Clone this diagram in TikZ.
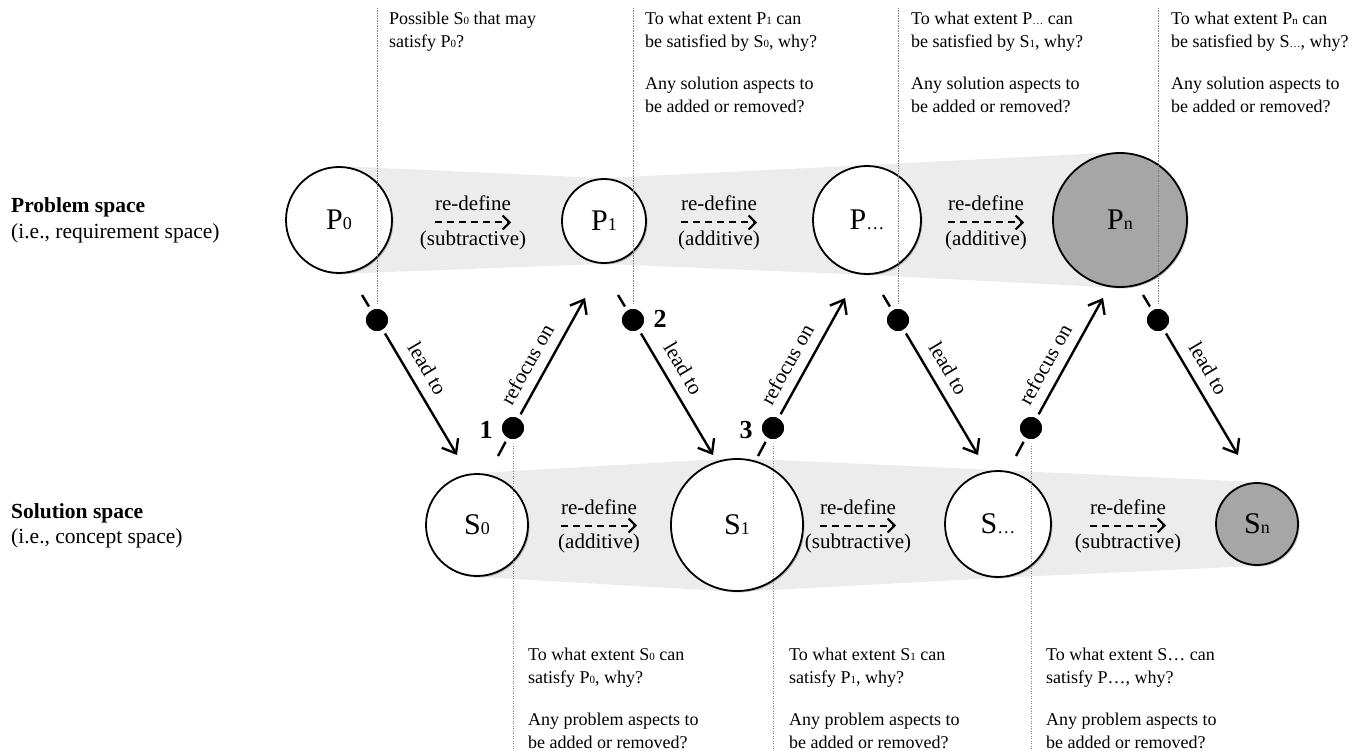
\documentclass[tikz,border=0pt]{standalone}
\usepackage{fontspec}
\setmainfont{Liberation Serif}
\usetikzlibrary{arrows.meta,calc,shadows}
\pgfdeclarelayer{background}
\pgfdeclarelayer{foreground}
\pgfsetlayers{background,main,foreground}

\definecolor{bandgray}{RGB}{236,236,236}
\definecolor{endgray}{RGB}{166,166,166}
\definecolor{guidegray}{RGB}{125,125,125}

\newcommand\fs[2]{\fontsize{#1}{#2}\selectfont}
% small index letters, in running text and inside the circles
\newcommand\ssub[1]{{\fontsize{11}{11}\selectfont #1}}
\newcommand\csub[1]{{\fontsize{18}{18}\selectfont #1}}

\tikzset{
  stateball/.style={circle, draw, line width=1.8pt, fill=white, inner sep=0pt,
    font=\fs{30}{32},
    drop shadow={shadow xshift=1.5pt, shadow yshift=-1.5pt, opacity=0.22, fill=black}},
  endball/.style={stateball, fill=endgray},
  knot/.style={circle, fill=black, draw=white, line width=4.5pt,
    minimum size=27pt, inner sep=0pt},
  guide/.style={draw=guidegray, line width=0.7pt, dash pattern=on 1.2pt off 1.3pt},
  flow/.style={line width=2.4pt, -{Straight Barb[length=12pt,width=19pt]}},
  stub/.style={line width=2.4pt},
  redef/.style={line width=2pt, dash pattern=on 7pt off 5pt,
    -{Straight Barb[length=7pt,width=14pt]}},
  note/.style={anchor=north west, align=left, inner sep=0pt, font=\fs{18}{22.5}},
  tag/.style={font=\fs{21}{24}, inner sep=0pt},
  steplabel/.style={font=\fs{21}{24}, sloped, anchor=south, inner sep=10pt},
  num/.style={font=\fs{26}{28}\bfseries, inner sep=0pt},
  head/.style={anchor=base west, inner sep=0pt, font=\fs{21.5}{26}\bfseries},
  subhead/.style={anchor=base west, inner sep=0pt, font=\fs{21.5}{26}},
}

\begin{document}
\begin{tikzpicture}[x=1pt, y=-1pt]
\useasboundingbox (0,0) rectangle (1367,751);

% side headings
\node[head] (ph) at (11,213) {Problem space};
\node[subhead] (phx) at (11,239) {(i.e., requirement space)};
\node[head] (sh) at (11,518) {Solution space};
\node[subhead] (shx) at (11,543) {(i.e., concept space)};

% problem states
\node[stateball, minimum size=106pt] (P0) at (339,220) {P\csub{0}};
\node[stateball, minimum size=84pt]  (P1) at (604,221) {P\csub{1}};
\node[stateball, minimum size=108pt] (Pd) at (867,220) {P\csub{…}};
\node[endball,   minimum size=134pt] (Pn) at (1120,220) {P\csub{n}};

% solution states
\node[stateball, minimum size=102pt] (S0) at (477,525) {S\csub{0}};
\node[stateball, minimum size=132pt] (S1) at (737,525) {S\csub{1}};
\node[stateball, minimum size=106pt] (Sd) at (998,524) {S\csub{…}};
\node[endball,   minimum size=82pt]  (Sn) at (1257,524) {S\csub{n}};

% grey corridors joining the states of each space
\begin{pgfonlayer}{background}
  \fill[bandgray] (P0.north) -- (P1.north) -- (Pd.north) -- (Pn.north)
     -- (Pn.south) -- (Pd.south) -- (P1.south) -- (P0.south) -- cycle;
  \fill[bandgray] (S0.north) -- (S1.north) -- (Sd.north) -- (Sn.north)
     -- (Sn.south) -- (Sd.south) -- (S1.south) -- (S0.south) -- cycle;
\end{pgfonlayer}

% re-define steps between neighbouring states
\foreach \n/\cx/\cy/\kind in {1/473/211/subtractive, 2/719/211/additive,
    3/986/211/additive, 4/599/514/additive, 5/858/514/subtractive,
    6/1128/514/subtractive}{
  \node[tag, anchor=base] (rd\n) at (\cx,\cy) {re-define};
  \node[tag, anchor=base] (rk\n) at (\cx,\cy+34.5) {(\kind)};
  \coordinate (rs\n) at (\cx-38,\cy+11.5);
  \coordinate (re\n) at (\cx+38,\cy+11.5);
  \draw[redef] (rs\n) -- (re\n);
}

% junction dots
\begin{pgfonlayer}{foreground}
  \node[knot] (u1) at (377,320) {};
  \node[knot] (u2) at (633,320) {};
  \node[knot] (u3) at (898,320) {};
  \node[knot] (u4) at (1158,320) {};
  \node[knot] (d1) at (513,428) {};
  \node[knot] (d2) at (773,428) {};
  \node[knot] (d3) at (1031,428) {};
\end{pgfonlayer}

% dotted guides from the questions to the dots
\foreach \i/\gx in {1/377, 2/633, 3/898, 4/1158}{
  \coordinate (gu\i) at (\gx,8);
  \draw[guide] (gu\i) -- (u\i.center);
}
\foreach \i/\gx in {1/513, 2/773, 3/1031}{
  \coordinate (gd\i) at (\gx,751);
  \draw[guide] (d\i.center) -- (gd\i);
}

% lead to: problem -> solution
\foreach \i in {1,2,3,4}{
  \coordinate (la\i) at ($(u\i)+(-15,-25)$);
  \coordinate (lb\i) at ($(u\i)+(80,135)$);
  \draw[stub] (la\i) -- (u\i.center);
  \draw[flow] (u\i.center) -- (lb\i)
    node[steplabel, pos=0.43] (lt\i) {lead to};
}

% refocus on: solution -> problem
\foreach \i in {1,2,3}{
  \coordinate (fa\i) at ($(d\i)+(-15,28)$);
  \coordinate (fb\i) at ($(d\i)+(72,-130)$);
  \draw[stub] (fa\i) -- (d\i.center);
  \draw[flow] (d\i.center) -- (fb\i)
    node[steplabel, pos=0.42] (ft\i) {refocus on};
}

% step numbers
\node[num] (n1) at ($(d1)+(-27,2)$) {1};
\node[num] (n2) at ($(u2)+(27,-1)$) {2};
\node[num] (n3) at ($(d2)+(-27,2)$) {3};

% questions above the problem space
\node[note] (q1) at (389,12) {Possible S\ssub{0} that may\\satisfy P\ssub{0}?};
\node[note] (q2) at (645,12) {To what extent P\ssub{1} can\\be satisfied by S\ssub{0}, why?\\[20pt]Any solution aspects to\\be added or removed?};
\node[note] (q3) at (911,12) {To what extent P\ssub{…} can\\be satisfied by S\ssub{1}, why?\\[20pt]Any solution aspects to\\be added or removed?};
\node[note] (q4) at (1171,12) {To what extent P\ssub{n} can\\be satisfied by S\ssub{…}, why?\\[20pt]Any solution aspects to\\be added or removed?};

% questions below the solution space
\node[note] (r1) at (528,648) {To what extent S\ssub{0} can\\satisfy P\ssub{0}, why?\\[20pt]Any problem aspects to\\be added or removed?};
\node[note] (r2) at (789,648) {To what extent S\ssub{1} can\\satisfy P\ssub{1}, why?\\[20pt]Any problem aspects to\\be added or removed?};
\node[note] (r3) at (1046,648) {To what extent S… can\\satisfy P…, why?\\[20pt]Any problem aspects to\\be added or removed?};
\end{tikzpicture}
\end{document}
